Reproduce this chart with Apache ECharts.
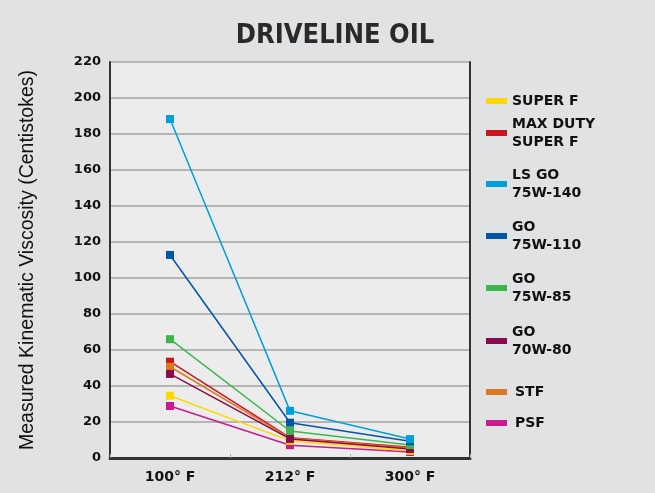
<!DOCTYPE html>
<html>
<head>
<meta charset="utf-8">
<script src="https://cdn.jsdelivr.net/npm/echarts@6/dist/echarts.min.js"></script>
<style>
html,body{margin:0;padding:0;background:#e1e2e4;}
#chart{width:655px;height:493px;}
</style>
</head>
<body>
<div id="chart"></div>
<script>
// ---- data ----
const categories = ['100° F', '212° F', '300° F'];
const yTicks = [0, 20, 40, 60, 80, 100, 120, 140, 160, 180, 200, 220];
const superF   = [34.6, 9.5, 4.0];
const maxDuty  = [53.5, 11.3, 6.0];
const lsGo140  = [188.3, 26.2, 10.5];
const go110    = [112.8, 19.6, 9.3];
const go85     = [66.0, 15.0, 7.2];
const go80     = [46.7, 10.6, 5.0];
const stf      = [50.7, 11.0, 5.6];
const psf      = [28.9, 7.1, 3.3];

const names = {
  superF: 'SUPER F',
  maxDuty: 'MAX DUTY\nSUPER F',
  lsGo140: 'LS GO\n75W-140',
  go110: 'GO\n75W-110',
  go85: 'GO\n75W-85',
  go80: 'GO\n70W-80',
  stf: 'STF',
  psf: 'PSF'
};
const colors = {
  superF: '#fcd800', maxDuty: '#c8161e', lsGo140: '#009fdb', go110: '#0254a6',
  go85: '#3cb64b', go80: '#8a0a4f', stf: '#dc7a1f', psf: '#c71b8f'
};
const values = { superF, maxDuty, lsGo140, go110, go85, go80, stf, psf };

// draw order (later on top)
const drawOrder = ['psf', 'superF', 'maxDuty', 'stf', 'go80', 'go85', 'go110', 'lsGo140'];
// legend order and icon-center y positions
const legendOrder = ['superF', 'maxDuty', 'lsGo140', 'go110', 'go85', 'go80', 'stf', 'psf'];
const legendIconY = [101, 133, 184, 236, 288, 341, 392, 423];

const series = drawOrder.map(k => ({
  name: names[k],
  type: 'line',
  data: values[k],
  symbol: 'rect',
  symbolSize: 8,
  showSymbol: true,
  lineStyle: { width: 1.5, color: colors[k] },
  itemStyle: { color: colors[k] },
  emphasis: { disabled: true },
  animation: false
}));

const legendFont = { fontFamily: 'DejaVu Sans', fontWeight: 'bold', fontSize: 14, color: '#111', lineHeight: 18 };
const legends = legendOrder.map((k, i) => {
  const twoLine = names[k].indexOf('\n') >= 0;
  const indent = (k === 'stf' || k === 'psf') ? 3 : 0;
  const ts = Object.assign({}, legendFont, { padding: twoLine ? [18, 0, 0, indent] : [0, 0, 0, indent] });
  return {
    left: 486,
    top: legendIconY[i] - (twoLine ? 27 : 9),
    padding: 0,
    orient: 'vertical',
    icon: 'rect',
    itemWidth: 21,
    itemHeight: 6,
    itemGap: 0,
    selectedMode: false,
    data: [{ name: names[k], textStyle: ts }],
    textStyle: ts
  };
});

const chart = echarts.init(document.getElementById('chart'), null, { renderer: 'canvas' });
chart.setOption({
  backgroundColor: '#e1e2e4',
  animation: false,
  title: {
    text: 'DRIVELINE OIL',
    left: 330,
    textAlign: 'center',
    top: 17,
    textStyle: { fontFamily: '"DejaVu Sans Condensed", "Roboto Condensed", "Liberation Sans", sans-serif', fontWeight: 'bold', fontSize: 27, color: '#2a2a2a' }
  },
  legend: legends,
  grid: {
    left: 110, top: 62, width: 360, height: 396,
    show: true, backgroundColor: '#ececec', borderWidth: 0
  },
  xAxis: {
    type: 'category',
    data: categories,
    boundaryGap: true,
    axisLine: { show: true, lineStyle: { color: '#333', width: 3 } },
    axisTick: { show: true, inside: true, length: 4, lineStyle: { color: '#aaa', width: 1 } },
    axisLabel: { margin: 12, fontFamily: 'DejaVu Sans', fontWeight: 'bold', fontSize: 14, color: '#111' },
    splitLine: { show: false }
  },
  yAxis: [{
    type: 'value',
    min: yTicks[0],
    max: yTicks[yTicks.length - 1],
    interval: 20,
    name: 'Measured Kinematic Viscosity (Centistokes)',
    nameLocation: 'middle',
    nameRotate: 90,
    nameGap: 72,
    nameTextStyle: { fontFamily: '"Liberation Sans", Arial, sans-serif', fontSize: 19.5, color: '#111' },
    axisLine: { show: true, lineStyle: { color: '#333', width: 2 } },
    axisTick: { show: false },
    axisLabel: { margin: 9, fontFamily: 'DejaVu Sans', fontWeight: 'bold', fontSize: 13, color: '#111' },
    splitLine: { show: true, lineStyle: { color: '#b5b5b5', width: 2 } }
  }, {
    type: 'value',
    position: 'right',
    min: yTicks[0],
    max: yTicks[yTicks.length - 1],
    interval: 20,
    axisLine: { show: true, lineStyle: { color: '#333', width: 2 } },
    axisTick: { show: false },
    axisLabel: { show: false },
    splitLine: { show: false }
  }],
  series: series
});
</script>
</body>
</html>
